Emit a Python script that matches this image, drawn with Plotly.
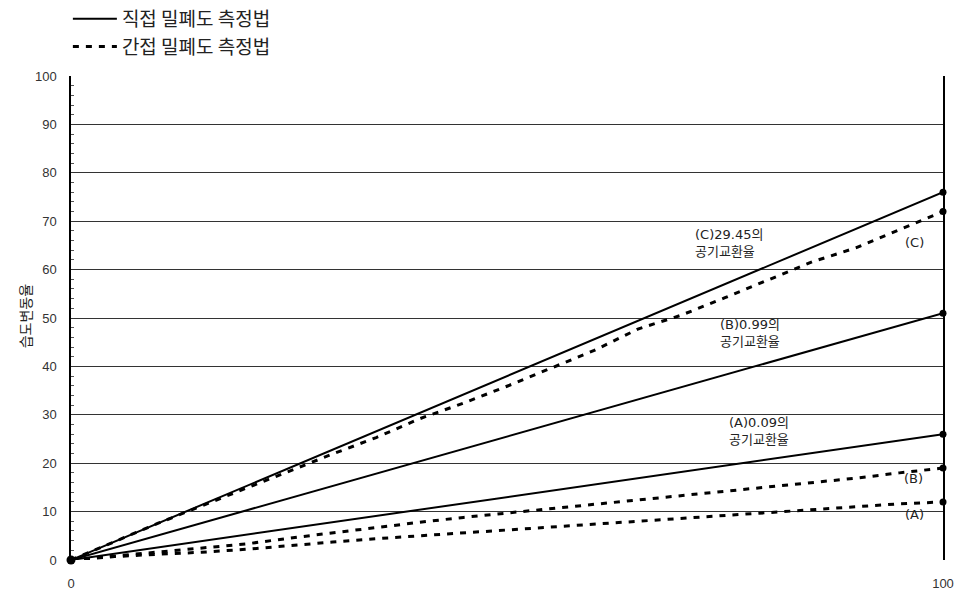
import plotly.graph_objects as go

# ---- data ----
x_solid = [0, 20, 40, 60, 80, 100]
solid_C = [0, 15.2, 30.4, 45.6, 60.8, 76]
solid_B = [0, 10.2, 20.4, 30.6, 40.8, 51]
solid_A = [0, 5.2, 10.4, 15.6, 20.8, 26]

x_dash = [0, 5, 10, 15, 20, 25, 30, 35, 40, 45, 50, 55, 60, 65, 70, 75, 80, 85, 90, 95, 100]
dash_C = [0, 3.8, 7.6, 11.2, 14.8, 18.4, 21.9, 25.3, 29.2, 32.4, 35.9, 39.6, 43.3, 47.7, 50.6, 54.2, 57.9, 61.6, 64.5, 68.2, 72]
dash_B = [0, 0.8, 1.6, 2.4, 3.3, 4.5, 5.6, 6.8, 7.8, 8.8, 9.7, 10.6, 11.5, 12.4, 13.3, 14.2, 15.2, 16.0, 16.9, 18.0, 19]
dash_A = [0, 0.7, 1.2, 1.6, 2.2, 3.0, 3.7, 4.4, 5.0, 5.5, 6.1, 6.7, 7.3, 7.9, 8.5, 9.1, 9.8, 10.4, 11.0, 11.6, 12]

legend_solid = "직접 밀폐도 측정법"
legend_dash = "간접 밀폐도 측정법"
y_title = "습도변동율"
x_ticks = [0, 100]

labels = [
    (71.3, 65.5, "(C)29.45의<br>공기교환율", "left"),
    (74.2, 46.9, "(B)0.99의<br>공기교환율", "left"),
    (75.2, 26.7, "(A)0.09의<br>공기교환율", "left"),
    (96.7, 65.7, "(C)", "center"),
    (96.6, 16.9, "(B)", "center"),
    (96.7, 9.3, "(A)", "center"),
]

KR = "Noto Sans CJK KR, Liberation Sans, sans-serif"
ANN = "DejaVu Sans, Noto Sans CJK KR, sans-serif"
NUM = "Liberation Sans, Arial, sans-serif"

fig = go.Figure()

for i, ys in enumerate([solid_C, solid_B, solid_A]):
    fig.add_trace(go.Scatter(
        x=x_solid, y=ys, mode="lines",
        line=dict(color="black", width=2),
        name=legend_solid, legendgroup="s", showlegend=(i == 0),
    ))
for i, ys in enumerate([dash_C, dash_B, dash_A]):
    fig.add_trace(go.Scatter(
        x=x_dash, y=ys, mode="lines",
        line=dict(color="black", width=3, dash="6px,7px"),
        name=legend_dash, legendgroup="d", showlegend=(i == 0),
    ))

# end-point dots
end_y = [solid_C[-1], solid_B[-1], solid_A[-1], dash_C[-1], dash_B[-1], dash_A[-1]]
fig.add_trace(go.Scatter(
    x=[x_solid[-1]] * 3 + [x_dash[-1]] * 3, y=end_y, mode="markers",
    marker=dict(color="black", size=7), showlegend=False, cliponaxis=False,
))
fig.add_trace(go.Scatter(
    x=[x_solid[0]], y=[solid_C[0]], mode="markers",
    marker=dict(color="black", size=9), showlegend=False, cliponaxis=False,
))

for x, y, t, al in labels:
    fig.add_annotation(x=x, y=y, text=t, showarrow=False, xanchor=al,
                       align="left", font=dict(family=ANN, size=13, color="#222"))

# y-axis title
fig.add_annotation(xref="paper", yref="paper", x=-0.053, y=0.505, text=y_title,
                   textangle=-90, showarrow=False, xanchor="center", yanchor="middle",
                   font=dict(family=KR, size=14, color="#222"))

fig.update_layout(
    width=956, height=594,
    margin=dict(l=71, r=13, t=76, b=34, autoexpand=False),
    paper_bgcolor="white", plot_bgcolor="white",
    legend=dict(xref="container", yref="container", x=0.071, y=1.0,
                xanchor="left", yanchor="top",
                font=dict(family=KR, size=19, color="#222"),
                itemwidth=44, tracegroupgap=0, bgcolor="rgba(0,0,0,0)"),
)
fig.update_xaxes(
    range=[0, 100], tickvals=x_ticks, ticktext=[str(v) for v in x_ticks],
    showgrid=False, zeroline=False, showline=False, ticks="",
    ticklabelstandoff=14,
    tickfont=dict(family=NUM, size=13, color="#333"),
)
fig.update_yaxes(
    range=[0, 100], dtick=10, showgrid=True, gridcolor="#333", gridwidth=1,
    zeroline=False, showline=True, linecolor="black", linewidth=1.5, mirror=True,
    ticks="inside", ticklen=4, tickcolor="#333",
    minor=dict(ticks="inside", ticklen=3, dtick=2, tickcolor="#555"),
    ticklabelstandoff=10,
    tickfont=dict(family=NUM, size=13, color="#333"),
)

fig.write_html(
    "out.html",
    config={"displayModeBar": False},
    post_script="document.body.style.margin='0';document.body.style.overflow='hidden';",
)
